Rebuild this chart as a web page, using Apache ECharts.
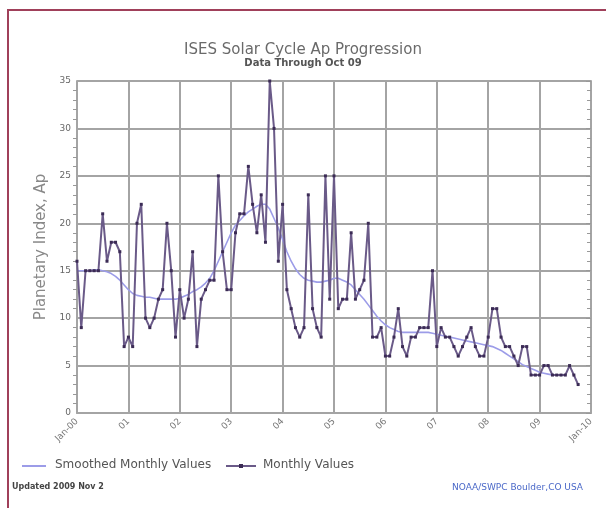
<!DOCTYPE html>
<html>
<head>
<meta charset="utf-8">
<script src="https://cdn.jsdelivr.net/npm/echarts@6/dist/echarts.min.js"></script>
<style>
html,body{margin:0;padding:0;background:#fff;}
#chart{width:606px;height:508px;}
</style>
</head>
<body>
<div id="chart"></div>
<script>
// Tick labels for the x axis (one per January)
const yearLabels = ['Jan-00','01','02','03','04','05','06','07','08','09','Jan-10'];

// Series names (legend)
const seriesNames = ['Smoothed Monthly Values', 'Monthly Values'];

// Monthly Ap values, Jan 2000 .. Oct 2009
const monthlyAp = [
  16, 9, 15, 15, 15, 15, 21, 16, 18, 18, 17, 7,
  8, 7, 20, 22, 10, 9, 10, 12, 13, 20, 15, 8,
  13, 10, 12, 17, 7, 12, 13, 14, 14, 25, 17, 13,
  13, 19, 21, 21, 26, 22, 19, 23, 18, 35, 30, 16,
  22, 13, 11, 9, 8, 9, 23, 11, 9, 8, 25, 12,
  25, 11, 12, 12, 19, 12, 13, 14, 20, 8, 8, 9,
  6, 6, 8, 11, 7, 6, 8, 8, 9, 9, 9, 15,
  7, 9, 8, 8, 7, 6, 7, 8, 9, 7, 6, 6,
  8, 11, 11, 8, 7, 7, 6, 5, 7, 7, 4, 4,
  4, 5, 5, 4, 4, 4, 4, 5, 4, 3
];

// Smoothed monthly Ap values, Jan 2000 .. Apr 2009
const smoothedAp = [
  15, 15, 15, 15, 15.1, 15.1, 15, 14.9, 14.7, 14.4, 14, 13.5,
  13, 12.6, 12.4, 12.3, 12.2, 12.2, 12.1, 12, 12, 12, 12, 12,
  12.1, 12.3, 12.5, 12.8, 13, 13.3, 13.7, 14.2, 15, 16, 17, 18,
  19, 19.8, 20.3, 20.8, 21.2, 21.5, 21.8, 22, 22, 21.5, 20.5, 19.5,
  18.3, 17, 16, 15.2, 14.6, 14.2, 14, 13.9, 13.8, 13.8, 13.9, 14,
  14.2, 14.2, 14, 13.8, 13.5, 13, 12.5, 12, 11.4, 10.8, 10.2, 9.7,
  9.3, 9, 8.8, 8.6, 8.5, 8.5, 8.5, 8.5, 8.5, 8.5, 8.5, 8.4,
  8.3, 8.2, 8.1, 8, 7.9, 7.8, 7.7, 7.6, 7.5, 7.4, 7.3, 7.2,
  7.1, 7, 6.8, 6.6, 6.3, 6, 5.7, 5.4, 5.1, 4.9, 4.7, 4.5,
  4.3, 4.2, 4.1, 4.0
];

const FONT = 'DejaVu Sans';
const smoothColor = '#9c9ce8';
const monthlyLine = '#6a5a88';
const monthlyMark = '#3b2b55';
const gridColor = '#a4a4a4';

const chart = echarts.init(document.getElementById('chart'), null, {renderer: 'canvas'});

chart.setOption({
  backgroundColor: '#ffffff',
  animation: false,
  title: {
    text: 'ISES Solar Cycle Ap Progression',
    subtext: 'Data Through Oct 09',
    left: 'center',
    top: 38,
    itemGap: 0,
    textStyle: {fontFamily: FONT, fontSize: 15, fontWeight: 'normal', color: '#6a6a6a'},
    subtextStyle: {fontFamily: FONT, fontSize: 10, fontWeight: 'bold', color: '#555'}
  },
  legend: {show: false, data: seriesNames},
  grid: {left: 77, right: 15, top: 81, bottom: 95, containLabel: false},
  xAxis: {
    type: 'value',
    min: 0,
    max: 120,
    interval: 12,
    axisLine: {show: true, lineStyle: {color: gridColor, width: 2}},
    axisTick: {show: false},
    axisLabel: {
      rotate: 45,
      margin: 7,
      fontFamily: FONT,
      fontSize: 9,
      color: '#777',
      formatter: function (v) { return yearLabels[Math.round(v / 12)]; }
    },
    splitLine: {show: true, lineStyle: {color: gridColor, width: 2}}
  },
  yAxis: [{
    type: 'value',
    min: 0,
    max: 35,
    interval: 5,
    name: 'Planetary Index, Ap',
    nameLocation: 'middle',
    nameGap: 27,
    nameTextStyle: {fontFamily: FONT, fontSize: 15, color: '#888'},
    axisLine: {show: true, lineStyle: {color: gridColor, width: 2}},
    axisTick: {show: false},
    minorTick: {show: true, splitNumber: 5, length: 4, lineStyle: {color: '#999'}},
    axisLabel: {fontFamily: FONT, fontSize: 9, color: '#666', margin: 6},
    splitLine: {show: true, lineStyle: {color: gridColor, width: 2}}
  }, {
    type: 'value',
    min: 0,
    max: 35,
    interval: 5,
    position: 'right',
    axisLine: {show: true, lineStyle: {color: gridColor, width: 2}},
    axisTick: {show: true, inside: true, length: 5, lineStyle: {color: '#999'}},
    minorTick: {show: true, splitNumber: 5, length: 4, lineStyle: {color: '#999'}},
    axisLabel: {show: false},
    splitLine: {show: false}
  }],
  series: [{
    name: seriesNames[0],
    type: 'line',
    data: smoothedAp.map(function (v, i) { return [i, v]; }),
    symbol: 'none',
    lineStyle: {color: smoothColor, width: 1.6},
    itemStyle: {color: smoothColor},
    z: 3
  }, {
    name: seriesNames[1],
    type: 'line',
    data: monthlyAp.map(function (v, i) { return [i, v]; }),
    symbol: 'rect',
    symbolSize: 3,
    lineStyle: {color: monthlyLine, width: 2},
    itemStyle: {color: monthlyMark},
    z: 4
  }],
  graphic: [{
    type: 'rect',
    shape: {x: 8, y: 10, width: 700, height: 600},
    style: {fill: 'none', stroke: '#a0405a', lineWidth: 2},
    silent: true
  }, {
    type: 'line',
    shape: {x1: 22, y1: 466, x2: 46, y2: 466},
    style: {stroke: smoothColor, lineWidth: 2}
  }, {
    type: 'text',
    left: 55,
    top: 459,
    style: {text: seriesNames[0], fontFamily: FONT, fontSize: 12, fill: '#555'}
  }, {
    type: 'line',
    shape: {x1: 226, y1: 466, x2: 256, y2: 466},
    style: {stroke: monthlyLine, lineWidth: 2}
  }, {
    type: 'rect',
    shape: {x: 239, y: 464, width: 4, height: 4},
    style: {fill: monthlyMark}
  }, {
    type: 'text',
    left: 263,
    top: 459,
    style: {text: seriesNames[1], fontFamily: FONT, fontSize: 12, fill: '#555'}
  }, {
    type: 'text',
    left: 12,
    top: 483,
    style: {text: 'Updated 2009 Nov 2', fontFamily: FONT, fontSize: 8, fontWeight: 'bold', fill: '#444'}
  }, {
    type: 'text',
    left: 452,
    top: 483,
    style: {text: 'NOAA/SWPC Boulder,CO USA', fontFamily: FONT, fontSize: 9, fill: '#4a68c8'}
  }]
});
</script>
</body>
</html>
